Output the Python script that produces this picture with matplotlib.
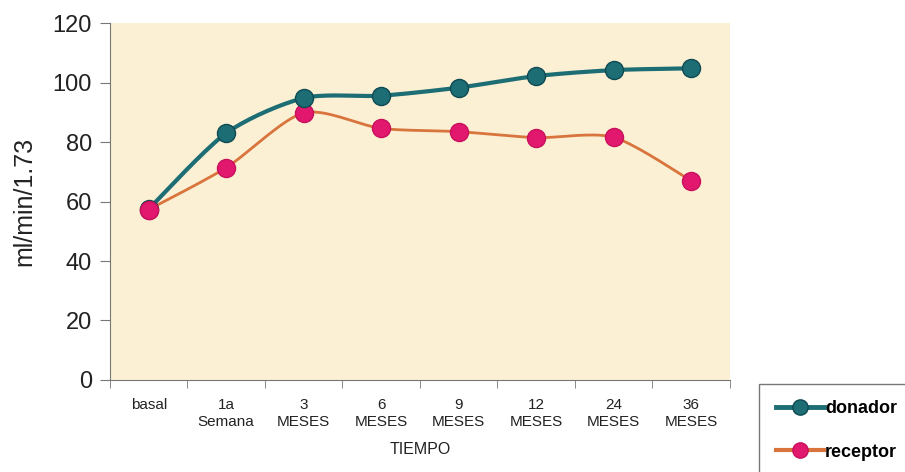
import matplotlib.pyplot as plt
import numpy as np
from matplotlib.lines import Line2D

plt.rcParams['font.family'] = ['Liberation Sans', 'DejaVu Sans']

categorias = ['basal', '1a\nSemana', '3\nMESES', '6\nMESES', '9\nMESES',
              '12\nMESES', '24\nMESES', '36\nMESES']
donador = [57.5, 83, 94.8, 95.6, 98.3, 102.2, 104.2, 104.8]
receptor = [57.3, 71.4, 89.8, 84.6, 83.5, 81.5, 81.6, 67]

teal = '#1d6d75'
teal_edge = '#0f4a52'
magenta = '#e2186f'
orange = '#d8743c'


# smooth line like excel (cardinal spline between points)
def smooth(x, y, n=20, k=0.4):
    x = np.asarray(x, float)
    y = np.asarray(y, float)
    px = np.concatenate([[x[0]], x, [x[-1]]])
    py = np.concatenate([[y[0]], y, [y[-1]]])
    xs, ys = [], []
    t = np.linspace(0, 1, n)
    for i in range(1, len(px) - 2):
        for p, out in ((px, xs), (py, ys)):
            p0, p1, p2, p3 = p[i - 1], p[i], p[i + 1], p[i + 2]
            m1 = k * (p2 - p0)
            m2 = k * (p3 - p1)
            h00 = 2 * t**3 - 3 * t**2 + 1
            h10 = t**3 - 2 * t**2 + t
            h01 = -2 * t**3 + 3 * t**2
            h11 = t**3 - t**2
            out.extend(h00 * p1 + h10 * m1 + h01 * p2 + h11 * m2)
    return xs, ys


fig = plt.figure(figsize=(9.05, 4.72), dpi=100)
ax = fig.add_axes([0.1215, 0.195, 0.685, 0.756])
ax.set_facecolor('#fbf0d4')

x = np.arange(len(categorias))
sx, sy = smooth(x, receptor)
ax.plot(sx, sy, color=orange, lw=2, zorder=2)
ax.plot(x, receptor, 'o', ms=13, color=magenta, mec='#c8105c', zorder=3)
sx, sy = smooth(x, donador)
ax.plot(sx, sy, color=teal, lw=3, zorder=4)
ax.plot(x, donador, 'o', ms=13, color=teal, mec=teal_edge, zorder=5)
# receptor first point sits on top
ax.plot(x[:1], receptor[:1], 'o', ms=13, color=magenta, mec='#c8105c', zorder=6)

ax.set_xlim(-0.5, len(categorias) - 0.5)
ax.set_ylim(0, 120)
ax.set_yticks(range(0, 121, 20))
ax.tick_params(axis='y', labelsize=17, length=7, color='#777777', pad=6,
               labelcolor='#222222')
ax.set_xticks(x)
ax.set_xticklabels(categorias, fontsize=11, linespacing=1.3)
ax.set_xticks(np.arange(-0.5, len(categorias)), minor=True)
ax.tick_params(axis='x', which='major', length=0, pad=13, labelcolor='#222222')
ax.tick_params(axis='x', which='minor', length=6, color='#777777')
for s in ['top', 'right']:
    ax.spines[s].set_visible(False)
for s in ['left', 'bottom']:
    ax.spines[s].set_color('#777777')

ax.set_ylabel('ml/min/1.73', fontsize=18, labelpad=12, color='#222222')
ax.set_xlabel('TIEMPO', fontsize=11.5, labelpad=9, color='#222222')

handles = [
    Line2D([], [], color=teal, lw=3.5, marker='o', ms=11, mfc=teal, mec=teal_edge),
    Line2D([], [], color=orange, lw=3, marker='o', ms=11, mfc=magenta, mec='#c8105c'),
]
fig.legend(handles, ['donador', 'receptor'], loc='upper left',
           bbox_to_anchor=(0.839, 0.186), frameon=True, fancybox=False,
           edgecolor='#555555', handlelength=2.7,
           handletextpad=0.05, borderpad=0.9, labelspacing=1.45,
           borderaxespad=0, prop={'weight': 'bold', 'size': 13})

fig.savefig('out.png', dpi=100)
